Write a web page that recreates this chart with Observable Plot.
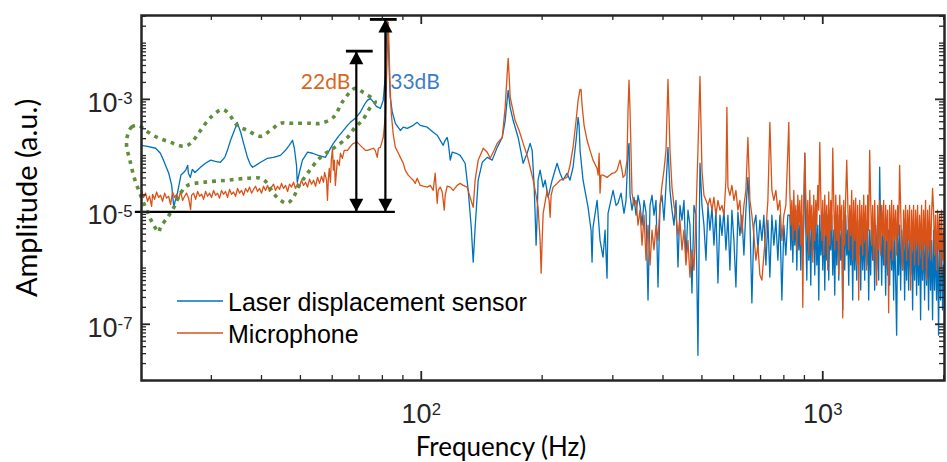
<!DOCTYPE html>
<html><head><meta charset="utf-8">
<script src="https://cdn.jsdelivr.net/npm/d3@7"></script>
<script src="https://cdn.jsdelivr.net/npm/@observablehq/plot@0.6"></script>
<style>body{margin:0;background:#fff}#chart svg{display:block}</style>
</head><body><div id="chart"></div>
<script>
// ---- data: [frequency Hz, amplitude a.u.] ----
const laserSpectrum = [[20.1,1.52e-4],[20.8,1.46e-4],[21.8,1.35e-4],[22.4,1.1e-4],[22.8,8.3e-5],[23.5,4.85e-5],[23.9,2.95e-5],[24.0,2.15e-5],[24.2,1.2e-5],[24.4,1.6e-5],[24.7,2.15e-5],[25.2,4.5e-5],[25.6,5.0e-5],[25.9,5.5e-5],[26.2,6.7e-5],[26.3,4.85e-5],[26.6,4.1e-5],[26.9,5.7e-5],[27.3,5.0e-5],[28.2,6.2e-5],[29.0,7.3e-5],[29.9,8.3e-5],[30.7,7.9e-5],[31.6,7.6e-5],[32.4,9.3e-5],[32.9,1.24e-4],[33.5,1.87e-4],[34.1,2.6e-4],[34.7,3.6e-4],[34.8,3.9e-4],[35.0,3.45e-4],[35.5,2.6e-4],[36.1,1.65e-4],[36.9,9.3e-5],[37.5,7.0e-5],[38.0,6.2e-5],[38.7,6.7e-5],[39.8,7.6e-5],[41.4,8.95e-5],[42.8,9.3e-5],[44.6,1.01e-4],[45.9,1.24e-4],[46.9,1.52e-4],[47.8,1.87e-4],[48.3,1.35e-4],[48.9,6.7e-5],[49.1,3.35e-5],[49.7,5.0e-5],[50.6,8.3e-5],[52.1,1.15e-4],[53.6,1.1e-4],[55.4,1.01e-4],[57.7,9.3e-5],[59.0,1.24e-4],[60.4,1.65e-4],[62.2,2.2e-4],[64.0,2.8e-4],[65.5,3.45e-4],[66.6,3.9e-4],[68.5,4.6e-4],[70.5,5.9e-4],[72.2,8.1e-4],[73.4,9.6e-4],[74.7,1.04e-3],[76.0,8.9e-4],[77.3,7.5e-4],[79.1,6.9e-4],[80.4,9.6e-4],[81.4,2.7e-3],[81.8,9.1e-3],[82.3,0.0243],[82.8,0.0112],[83.2,3.3e-3],[83.7,1.09e-3],[84.7,5.9e-4],[86.2,3.75e-4],[88.7,2.8e-4],[90.2,3.2e-4],[92.3,3.05e-4],[95.5,3.45e-4],[97.7,3.9e-4],[99.4,3.45e-4],[103.5,3.2e-4],[107.1,2.6e-4],[109.6,2.3e-4],[111.5,1.87e-4],[113.4,1.52e-4],[114.7,1.87e-4],[116.0,2.1e-4],[116.7,1.72e-4],[118.1,8.3e-5],[119.4,1.15e-4],[122.2,1.1e-4],[125.0,1.01e-4],[128.6,7.3e-5],[130.9,2.4e-5],[133.2,5.3e-6],[134.7,1.27e-6],[136.2,5.3e-6],[138.6,3.65e-5],[141.9,7.6e-5],[146.0,9.3e-5],[150.2,8.3e-5],[154.6,1.4e-4],[159.1,2.1e-4],[161.8,4.2e-4],[163.6,9.6e-4],[164.6,1.45e-3],[165.5,1.04e-3],[166.5,7.2e-4],[169.4,4.2e-4],[174.3,2.1e-4],[179.4,7.3e-5],[183.5,1.1e-4],[186.7,1.65e-4],[188.9,1.24e-4],[191.0,2.95e-5],[192.1,9.4e-6],[193.2,2.55e-6],[194.4,8.7e-6],[195.4,3.65e-5],[197.7,5.5e-5],[201.2,2.75e-5],[203.5,3.65e-5],[207.0,1.8e-5],[211.8,3.65e-5],[217.9,7.3e-5],[221.7,4.85e-5],[225.5,3.65e-5],[230.7,4.85e-5],[234.7,3.65e-5],[238.8,6.2e-5],[243.0,1.87e-4],[245.8,4.8e-4],[247.2,3.45e-4],[248.6,1.24e-4],[252.9,3.65e-5],[260.3,1.2e-5],[264.8,4.7e-6],[266.3,1.27e-6],[267.8,5.3e-6],[274.1,1.6e-5],[278.8,3.1e-6],[283.6,1.56e-6],[286.9,4.7e-6],[290.2,6.6e-7],[291.9,9.4e-6],[300.4,2.4e-5],[305.6,1.3e-5],[309.0,1.42e-5],[314.4,2.15e-5],[319.9,9.4e-6],[323.6,1.6e-5],[327.3,1.24e-4],[329.2,1.65e-4],
[331.1,1.97e-5],[334.9,1.07e-5],[338.8,1.8e-5],[342.7,8.7e-6],[346.6,1.97e-5],[350.6,1.3e-5],[354.7,5.8e-6],[358.8,1.6e-5],[362.9,9.9e-6],[367.1,2.7e-7],[371.3,1.3e-5],[375.6,1.97e-5],[379.9,8.7e-6],[384.3,1.6e-5],[388.7,4.6e-7],[393.2,1.3e-5],[397.7,1.97e-5],[402.3,7.1e-6],[407.0,2.95e-5],[411.6,1.4e-4],[416.4,2.4e-5],[421.2,1.07e-5],[426.0,5.8e-6],[430.9,1.6e-5],[435.9,1.04e-6],[440.9,1.3e-5],[446.0,7.1e-6],[451.1,1.6e-5],[456.3,1.38e-6],[461.6,1.07e-5],[466.9,5.8e-6],[472.3,3.6e-7],[477.8,1.3e-5],[483.3,8.7e-6],[488.8,2.8e-8],[494.5,7.3e-5],[500.2,1.3e-5],[505.9,5.8e-6],[511.8,1.38e-6],[517.7,1.3e-5],[523.6,4.7e-6],[529.7,1.2e-5],[535.8,2.55e-6],[541.9,1.07e-5],[548.2,5.4e-7],[554.5,8.7e-6],[560.9,3.8e-6],[567.3,1.07e-5],[573.9,2.1e-6],[580.5,8.7e-6],[587.2,9.2e-7],[593.9,1.07e-5],[600.8,3.1e-6],[607.7,4.6e-7],[614.7,9.9e-6],[621.8,3.8e-6],[628.9,8.7e-6],[636.2,1.7e-6],[643.5,1.07e-5],[651.0,4.1e-5],[658.5,7.1e-6],[666.0,2.4e-7],[673.7,5.8e-6],[681.5,8.7e-6],[689.3,2.1e-6],[697.3,7.1e-6],[705.3,3.1e-6],[713.4,8.7e-6],[721.7,1.13e-6],[730.0,7.1e-6],[738.4,6.9e-7],[746.9,8.7e-6],[755.5,2.55e-6],[764.2,7.1e-6],[773.0,1.38e-6],[781.9,8.7e-6],[790.9,2.7e-7],[800.0,5.8e-6],[809.2,1.7e-6],[818.6,8.7e-6],
[827.8,8.7e-6],[832.6,2.1e-6],[837.4,9.9e-6],[842.2,1.27e-6],[847.0,7.7e-6],[851.9,2.55e-6],[856.8,1.07e-5],[861.7,9.2e-7],[866.7,8.7e-6],[871.6,2.1e-6],[876.6,5.8e-6],[881.7,9.2e-7],[886.7,8.7e-6],[891.8,1.7e-6],[897.0,7.1e-6],[902.1,1.1e-4],[907.3,4.7e-6],[912.5,6.1e-7],[917.7,8.7e-6],[923.0,1.38e-6],[928.3,5.8e-6],[933.6,4.97e-7],[939.0,8.7e-6],[944.4,2.1e-6],[949.8,4.7e-6],[955.3,7.5e-7],[960.8,1.07e-5],[966.3,1.13e-6],[971.8,5.8e-6],[977.4,2.7e-7],[983.0,8.7e-6],[988.7,1.7e-6],[994.3,5.8e-6],[1000.0,9.2e-7],[1005.7,8.7e-6],[1011.5,4.05e-7],[1017.3,4.7e-6],[1023.2,1.38e-6],[1029.0,8.7e-6],[1034.9,6.1e-7],[1040.9,5.8e-6],[1046.8,2.1e-6],[1052.9,8.7e-6],[1058.9,7.5e-7],[1065.0,4.7e-6],[1071.1,3.3e-7],[1077.3,7.1e-6],[1083.5,1.13e-6],[1089.7,8.7e-6],[1095.9,6.1e-7],[1102.2,4.7e-6],[1108.5,1.38e-6],[1114.9,7.1e-6],[1121.3,1.8e-7],[1127.8,5.8e-6],[1134.2,9.2e-7],[1140.8,8.7e-6],[1147.3,1.7e-6],[1153.9,4.7e-6],[1160.5,4.97e-7],[1167.2,7.1e-6],[1173.9,1.13e-6],[1180.6,5.8e-6],[1187.4,2.7e-7],[1194.2,8.7e-6],[1201.1,9.2e-7],[1208.0,4.7e-6],[1214.9,6.1e-7],[1221.9,7.1e-6],[1228.9,1.7e-6],[1236.0,5.8e-6],[1243.1,4.05e-7],[1250.2,7.1e-6],[1257.4,9.2e-7],[1264.6,4.7e-6],[1271.9,6.1e-7],[1279.2,7.1e-6],[1286.5,1.13e-6],[1293.9,5.8e-6],[1301.3,2.7e-7],[1308.8,4.7e-6],[1316.3,7.5e-7],[1323.9,7.1e-6],[1331.5,1.38e-6],[1339.1,4.7e-6],[1346.8,4.05e-7],[1354.5,5.8e-6],[1362.3,9.2e-7],[1370.1,7.1e-6],[1378.0,6.1e-7],[1385.9,6.2e-5],[1393.9,4.7e-6],[1401.9,4.97e-7],[1409.9,5.8e-6],[1418.0,1.13e-6],[1426.1,4.7e-6],[1434.3,3.3e-7],[1442.5,5.8e-6],[1450.8,7.5e-7],[1459.1,4.7e-6],[1467.5,4.97e-7],[1476.0,7.1e-6],[1484.4,9.2e-7],[1492.9,4.7e-6],[1501.5,2.7e-7],[1510.1,5.8e-6],[1518.8,6.1e-7],[1527.5,6.4e-8],[1536.3,4.7e-6],[1545.1,7.5e-7],[1554.0,5.8e-6],[1562.9,4.05e-7],[1571.9,4.7e-6],[1580.9,9.2e-7],[1590.0,5.8e-6],[1599.1,2.7e-7],[1608.3,4.7e-6],[1617.5,6.1e-7],[1626.8,5.8e-6],[1636.1,4.05e-7],[1645.5,3.8e-6],[1655.0,7.5e-7],[1664.5,5.8e-6],[1674.0,1.8e-7],[1683.6,4.7e-6],[1693.3,6.1e-7],[1703.0,5.8e-6],[1712.8,3.3e-7],[1722.6,3.8e-6],[1732.5,4.97e-7],[1742.5,4.7e-6],[1752.5,1.2e-7],[1762.5,4.7e-6],[1772.6,6.1e-7],[1782.8,3.8e-6],[1793.0,2.7e-7],[1803.3,4.7e-6],[1813.7,4.97e-7],[1824.1,3.8e-6],[1834.5,1.8e-7],[1845.1,4.7e-6],[1855.6,4.05e-7],[1866.3,3.1e-6],[1877.0,1.2e-7],[1887.8,4.7e-6],[1898.6,4.05e-7],[1909.5,3.1e-6],[1920.5,2.7e-7],[1931.5,3.8e-6],[1942.6,6.4e-8],[1953.7,3.1e-6],[1964.9,2.7e-7],[1976.2,3.8e-6],[1987.6,1.8e-7],[1999.0,1.13e-6]];

const micSpectrum = [[20.11,2.4e-5],[20.34,1.8e-5],[20.58,2.15e-5],[20.81,1.54e-5],[21.05,1.89e-5],[21.30,1.25e-5],[21.42,2.05e-5],[21.67,1.67e-5],[21.92,2.25e-5],[22.17,1.8e-5],[22.42,1.97e-5],[22.68,1.54e-5],[22.95,2.15e-5],[23.21,1.75e-5],[23.48,1.89e-5],[23.75,1.36e-5],[24.02,2.25e-5],[24.30,1.8e-5],[24.58,2.05e-5],[24.87,1.67e-5],[25.15,2.3e-5],[25.44,1.6e-5],[25.74,1.89e-5],[26.03,2.15e-5],[26.33,1.75e-5],[26.64,1.1e-5],[26.79,1.97e-5],[27.10,2.15e-5],[27.41,1.67e-5],[27.73,2.3e-5],[28.05,1.89e-5],[28.37,2.05e-5],[28.70,1.67e-5],[29.03,2.3e-5],[29.36,1.89e-5],[29.70,2.15e-5],[30.04,1.8e-5],[30.39,2.4e-5],[30.74,1.97e-5],[31.09,2.15e-5],[31.45,1.75e-5],[31.81,2.4e-5],[32.18,2.05e-5],[32.55,2.3e-5],[32.93,1.8e-5],[33.31,2.5e-5],[33.69,2.05e-5],[34.08,2.25e-5],[34.47,1.89e-5],[34.87,2.6e-5],[35.27,2.15e-5],[35.68,2.4e-5],[36.09,1.97e-5],[36.51,2.6e-5],[36.93,2.25e-5],[37.35,2.75e-5],[37.78,2.15e-5],[38.22,2.5e-5],[38.66,2.85e-5],[39.11,2.3e-5],[39.56,2.6e-5],[40.01,2.15e-5],[40.47,2.85e-5],[40.94,2.4e-5],[41.41,2.95e-5],[41.89,2.3e-5],[42.37,2.75e-5],[42.86,3.1e-5],[43.36,2.4e-5],[43.86,2.85e-5],[44.36,2.5e-5],[44.87,3.2e-5],[45.39,2.6e-5],[45.92,2.95e-5],[46.45,2.3e-5],[46.98,3.1e-5],[47.52,2.75e-5],[48.07,3.35e-5],[48.63,2.6e-5],[49.19,3.2e-5],[49.75,2.85e-5],[50.33,3.65e-5],[50.91,2.95e-5],[51.50,3.35e-5],[52.09,2.75e-5],[52.69,3.8e-5],[53.30,3.1e-5],[53.92,3.65e-5],[54.54,2.85e-5],[55.17,4.1e-5],[55.80,3.2e-5],[56.45,4.3e-5],[57.10,3.35e-5],[57.43,5.0e-5],[58.09,3.65e-5],[58.4,1.6e-5],[58.7,3.95e-5],[59.0,5.9e-5],[59.4,3.35e-5],[59.7,8.3e-5],[60.1,1.35e-4],[60.4,5.5e-5],[60.75,8.3e-5],[61.1,2.95e-5],[61.8,8.3e-5],[62.5,6.7e-5],[62.9,1.1e-4],[63.6,8.95e-5],[64.3,1.24e-4],[65.5,1.24e-4],[66.6,1.46e-4],[67.7,1.65e-4],[69.3,1.72e-4],[70.5,1.52e-4],[71.3,1.4e-4],[72.6,1.24e-4],[73.4,1.24e-4],[74.7,1.29e-4],[76.0,1.35e-4],[76.8,1.24e-4],[77.7,9.3e-5],[78.2,1.35e-4],[79.1,1.4e-4],[80.0,1.87e-4],[80.4,2.1e-4],[81.4,5.2e-4],[81.8,1.45e-3],[82.3,7.4e-3],[82.8,0.0234],[83.2,6.0e-3],[83.7,1.45e-3],[84.2,5.6e-4],[85.2,2.3e-4],[86.2,1.4e-4],[87.7,1.1e-4],[88.7,9.3e-5],[90.2,7.3e-5],[91.2,5.5e-5],[92.8,4.5e-5],[93.9,4.1e-5],[95.5,3.65e-5],[96.6,3.2e-5],[97.7,3.95e-5],[99.4,2.95e-5],[101.2,2.85e-5],[103.5,2.75e-5],[105.3,2.95e-5],[107.1,2.4e-5],[108.3,4.85e-5],[109.6,1.42e-5],[110.2,2.4e-5],[111.5,2.75e-5],[112.8,2.25e-5],[114.1,1.07e-5],[114.7,1.97e-5],[116.0,2.85e-5],[118.1,2.75e-5],[120.1,2.4e-5],[122.9,2.95e-5],[125.0,3.2e-5],[127.2,2.95e-5],[130.1,2.75e-5],[132.4,1.8e-5],[134.7,1.2e-5],[136.2,3.65e-5],[138.6,8.3e-5],[142.7,1.35e-4],[146.0,1.15e-4],[148.5,8.95e-5],[151.9,1.24e-4],[154.6,1.65e-4],[159.1,2.1e-4],[161.8,7.2e-4],[163.6,2.7e-3],[164.6,5.35e-3],[165.5,2.7e-3],[166.5,1.09e-3],[171.3,4.2e-4],[175.3,2.8e-4],[179.4,1.65e-4],[183.5,1.01e-4],[186.7,6.2e-5],[190.0,3.65e-5],[193.2,1.97e-5],[195.4,1.2e-5],[197.7,3.1e-6],[198.9,8.1e-7],[200.0,3.1e-6],[201.2,9.4e-6],[205.8,2.4e-5],[208.2,1.6e-5],[209.4,8.0e-6],[210.6,1.97e-5],[213.0,2.75e-5],[217.9,3.2e-5],[221.7,3.65e-5],[228.1,3.95e-5],[230.7,4.1e-5],[234.7,6.7e-5],[238.8,1.4e-4],[243.0,4.2e-4],[245.8,9.6e-4],[248.6,1.5e-3],[250.0,1.5e-3],[251.5,7.8e-4],[254.4,3.45e-4],[258.8,1.87e-4],[263.2,1.24e-4],[267.8,8.3e-5],[274.1,5.9e-5],[275.7,4.5e-5],[277.3,1.1e-4],[278.8,2.15e-5],[280.4,4.5e-5],[283.6,4.5e-5],[290.2,4.1e-5],[295.3,4.5e-5],[298.6,4.85e-5],[303.7,5.0e-5],[307.4,5.5e-5],[312.6,8.3e-5],[316.2,5.5e-5],[318.1,4.1e-5],[321.7,4.5e-5],[325.4,8.3e-5],[327.3,6.4e-4],[329.2,2.2e-3],
[331.1,6.4e-4],[334.9,2.15e-5],[338.8,1.3e-5],[342.7,1.6e-5],[346.6,5.8e-6],[350.6,1.07e-5],[354.7,2.55e-6],[358.8,8.7e-6],[362.9,1.38e-6],[367.1,5.8e-6],[371.3,1.13e-6],[375.6,4.7e-6],[379.9,2.1e-6],[384.3,5.8e-6],[388.7,3.1e-6],[393.2,1.3e-5],[397.7,2.95e-5],[402.3,5.5e-5],[407.0,1.24e-4],[411.6,2.26e-3],[416.4,1.24e-4],[421.2,2.75e-5],[426.0,1.3e-5],[430.9,8.7e-6],[435.9,3.8e-6],[440.9,7.1e-6],[446.0,2.1e-6],[451.1,4.7e-6],[456.3,1.13e-6],[461.6,3.1e-6],[466.9,6.9e-7],[472.3,2.1e-6],[477.8,9.2e-7],[483.3,8.7e-6],[488.8,1.24e-4],[494.5,2.55e-3],[500.2,5.5e-5],[505.9,1.97e-5],[511.8,1.6e-5],[517.7,1.3e-5],[523.6,1.75e-5],[529.7,1.07e-5],[535.8,1.8e-5],[541.9,8.7e-6],[548.2,1.6e-5],[554.5,1.07e-5],[560.9,1.3e-5],[567.3,8.7e-6],[573.9,3.65e-5],[577.1,7.2e-4],[580.5,2.75e-5],[587.2,1.97e-5],[593.9,2.95e-5],[600.8,1.6e-5],[607.7,2.4e-5],[614.7,1.07e-5],[621.8,1.6e-5],[628.9,4.2e-6],[636.2,1.3e-5],[643.5,2.4e-5],[651.0,2.1e-4],[658.5,1.6e-5],[666.0,8.7e-6],[673.7,3.8e-6],[681.5,1.38e-6],[689.3,2.55e-6],[697.3,7.5e-7],[705.3,6.1e-7],[713.4,1.7e-6],[721.7,4.7e-6],[730.0,1.6e-5],[738.4,3.9e-4],[746.9,2.4e-5],[755.5,1.6e-5],[764.2,2.4e-5],[773.0,1.07e-5],[781.9,1.6e-5],[790.9,3.1e-6],[800.0,8.7e-6],[809.2,1.3e-5],[818.6,1.24e-4],[823.0,3.9e-4],
[827.8,2.4e-5],[832.6,5.8e-6],[837.4,1.6e-5],[842.2,3.1e-6],[847.0,2.4e-5],[851.9,4.7e-6],[856.8,1.3e-5],[861.7,2.1e-6],[866.7,1.97e-5],[871.6,5.8e-6],[876.6,1.6e-5],[881.7,2.55e-6],[886.7,1.97e-5],[891.8,2.0e-7],[897.0,1.6e-5],[902.1,1.1e-4],[907.3,1.97e-5],[912.5,3.8e-6],[917.7,1.6e-5],[923.0,1.7e-6],[928.3,2.4e-5],[933.6,4.7e-6],[939.0,1.3e-5],[944.4,1.27e-6],[949.8,1.97e-5],[955.3,3.1e-6],[960.8,1.6e-5],[966.3,5.8e-6],[971.8,2.95e-5],[977.4,1.07e-5],[983.0,1.72e-4],[988.7,1.97e-5],[994.3,3.1e-6],[1000.0,1.6e-5],[1005.7,1.7e-6],[1011.5,1.97e-5],[1017.3,3.8e-6],[1023.2,1.3e-5],[1029.0,9.2e-7],[1034.9,2.25e-5],[1040.9,2.55e-6],[1046.8,1.6e-5],[1052.9,4.7e-6],[1058.9,1.35e-4],[1065.0,1.6e-5],[1071.1,2.1e-6],[1077.3,1.97e-5],[1083.5,3.1e-6],[1089.7,1.3e-5],[1095.9,7.5e-7],[1102.2,1.97e-5],[1108.5,4.7e-6],[1114.9,1.3e-5],[1121.3,1.3e-7],[1127.8,1.6e-5],[1134.2,2.55e-6],[1140.8,1.97e-5],[1147.3,8.3e-5],[1153.9,1.6e-5],[1160.5,2.1e-6],[1167.2,1.3e-5],[1173.9,3.8e-6],[1180.6,2.4e-5],[1187.4,1.38e-6],[1194.2,1.6e-5],[1201.1,3.1e-6],[1208.0,1.75e-5],[1214.9,1.13e-6],[1221.9,1.3e-5],[1228.9,2.7e-7],[1236.0,1.6e-5],[1243.1,2.55e-6],[1250.2,1.3e-5],[1257.4,1.7e-6],[1264.6,1.97e-5],[1271.9,3.1e-6],[1279.2,1.3e-5],[1286.5,9.2e-7],[1293.9,1.97e-5],[1301.3,4.7e-6],[1308.8,1.24e-4],[1316.3,1.6e-5],[1323.9,2.55e-6],[1331.5,1.3e-5],[1339.1,1.38e-6],[1346.8,1.6e-5],[1354.5,3.1e-6],[1362.3,4.97e-7],[1370.1,1.3e-5],[1378.0,2.1e-6],[1385.9,1.6e-5],[1393.9,1.7e-6],[1401.9,1.3e-5],[1409.9,3.8e-6],[1418.0,1.6e-5],[1426.1,1.13e-6],[1434.3,1.3e-5],[1442.5,3.1e-6],[1450.8,1.07e-5],[1459.1,1.6e-7],[1467.5,1.3e-5],[1476.0,2.1e-6],[1484.4,1.6e-5],[1492.9,1.38e-6],[1501.5,1.3e-5],[1510.1,3.1e-6],[1518.8,1.07e-5],[1527.5,1.7e-6],[1536.3,1.3e-5],[1545.1,3.8e-6],[1554.0,6.7e-5],[1562.9,1.3e-5],[1571.9,2.1e-6],[1580.9,9.2e-7],[1590.0,1.07e-5],[1599.1,2.55e-6],[1608.3,1.3e-5],[1617.5,1.38e-6],[1626.8,1.07e-5],[1636.1,3.1e-6],[1645.5,1.3e-5],[1655.0,4.05e-7],[1664.5,1.07e-5],[1674.0,2.1e-6],[1683.6,1.3e-5],[1693.3,1.13e-6],[1703.0,1.07e-5],[1712.8,2.55e-6],[1722.6,1.3e-5],[1732.5,1.13e-6],[1742.5,8.7e-6],[1752.5,2.1e-6],[1762.5,1.3e-5],[1772.6,9.2e-7],[1782.8,1.07e-5],[1793.0,2.55e-6],[1803.3,1.6e-5],[1813.7,6.1e-7],[1824.1,1.07e-5],[1834.5,2.1e-6],[1845.1,1.3e-5],[1855.6,1.38e-6],[1866.3,8.7e-6],[1877.0,2.6e-5],[1887.8,1.07e-5],[1898.6,1.7e-6],[1909.5,8.7e-6],[1920.5,9.2e-7],[1931.5,1.07e-5],[1942.6,2.1e-6],[1953.7,8.7e-6],[1964.9,7.5e-7],[1976.2,1.07e-5],[1987.6,1.38e-6],[1999.0,4.7e-6]];

// green dotted outline (closed region)
const regionOutline = [[18.56,2.3e-4],[18.99,3.2e-4],[19.77,3.45e-4],[20.58,2.8e-4],[22.0,2.1e-4],[23.75,1.72e-4],[25.6,1.46e-4],[26.65,1.65e-4],[28.2,2.8e-4],[29.9,4.8e-4],[32.0,6.6e-4],[33.1,5.6e-4],[34.8,3.45e-4],[36.9,2.8e-4],[39.8,2.2e-4],[42.1,2.8e-4],[44.6,3.75e-4],[48.0,3.75e-4],[53.0,3.75e-4],[56.1,3.75e-4],[60.4,4.8e-4],[64.0,9.6e-4],[68.5,1.57e-3],[71.7,1.33e-3],[75.5,1.04e-3],[76.8,8.9e-4],[74.7,7.2e-4],[71.3,4.2e-4],[68.5,3.2e-4],[65.5,2.1e-4],[60.4,1.35e-4],[56.1,9.3e-5],[52.1,4.85e-5],[49.4,2.75e-5],[48.0,1.8e-5],[46.4,1.42e-5],[44.6,1.6e-5],[42.8,2.15e-5],[41.4,3.2e-5],[39.8,3.95e-5],[36.9,3.95e-5],[32.9,3.65e-5],[28.7,3.35e-5],[26.2,2.95e-5],[25.15,2.15e-5],[24.2,1.2e-5],[23.35,8.0e-6],[22.4,5.3e-6],[22.2,4.35e-6],[21.5,6.0e-6],[20.8,9.9e-6],[20.0,1.97e-5],[19.3,3.95e-5],[18.8,8.3e-5],[18.45,1.52e-4]];

const seriesNames = ["Laser displacement sensor", "Microphone"];
const seriesColors = ["#0072BD", "#D95319"];
const xTickValues = [100, 1000];
const yTickValues = [1e-7, 1e-5, 1e-3];
// annotation: reference level and two gain arrows
const baseLevel = 1e-5;
const baseFreqRange = [19.4, 86.2];
const arrowFreq = [68.9, 81.4];
const arrowTop = [7.2e-3, 0.0264];
const capFreqLo = [65.1, 74.7];
const capFreqHi = [75.9, 87.1];
const gainLabels = ["22dB", "33dB"];
const gainLabelFreq = [66.6, 83.7];
const gainLabelAmp = [1.5e-3, 1.5e-3];

// ---- build ----
const W = 947, H = 462, ML = 141, MR = 3, MT = 15, MB = 82;
const FW = W - ML - MR, FH = H - MT - MB;
const laser = laserSpectrum.map(([f, a]) => ({f, a}));
const mic = micSpectrum.map(([f, a]) => ({f, a}));
const region = regionOutline.map(([f, a]) => ({f, a}));
const arrows = arrowFreq.map((f, i) => ({f, top: arrowTop[i], lo: capFreqLo[i], hi: capFreqHi[i]}));

const yMinor = [], xMinor = [];
for (let n = -8; n <= -2; n++) for (let k = 1; k <= 9; k++) {
  const v = k * Math.pow(10, n);
  if (v >= 1e-8 && v <= 0.031 && !yTickValues.some(t => Math.abs(t - v) / t < 1e-6)) yMinor.push(v);
}
for (let n = 1; n <= 3; n++) for (let k = 1; k <= 9; k++) {
  const v = k * Math.pow(10, n);
  if (v >= 20.1 && v <= 2010 && !xTickValues.includes(v)) xMinor.push(v);
}

const triUp = {draw(ctx) { ctx.moveTo(0, 0); ctx.lineTo(7, 13); ctx.lineTo(-7, 13); ctx.closePath(); }};
const triDown = {draw(ctx) { ctx.moveTo(0, 0); ctx.lineTo(7, -13); ctx.lineTo(-7, -13); ctx.closePath(); }};
const ink = "#262626";
const titleFont = "Lato, 'Open Sans', sans-serif";
const expLabel = d => "10^" + Math.round(Math.log10(d));

const svg = Plot.plot({
  width: W, height: H,
  marginLeft: ML, marginRight: MR, marginTop: MT, marginBottom: MB,
  style: {fontFamily: "'Liberation Sans', Arial, sans-serif", background: "white", overflow: "visible"},
  x: {type: "log", domain: [20.1, 2010], axis: null},
  y: {type: "log", domain: [1e-8, 0.031], axis: null},
  marks: [
    Plot.line(laser, {x: "f", y: "a", stroke: seriesColors[0], strokeWidth: 1.3, clip: true}),
    Plot.line(mic, {x: "f", y: "a", stroke: seriesColors[1], strokeWidth: 1.3, clip: true}),
    Plot.line(region, {x: "f", y: "a", curve: "catmull-rom-closed", stroke: "#5f8f3e", strokeWidth: 3.6, strokeDasharray: "3.8,5", strokeLinecap: "butt"}),
    // reference level and arrows
    Plot.ruleY([baseLevel], {x1: baseFreqRange[0], x2: baseFreqRange[1], stroke: "black", strokeWidth: 2.2}),
    Plot.ruleX(arrows, {x: "f", y1: baseLevel, y2: "top", stroke: "black", strokeWidth: 2.2}),
    Plot.ruleY(arrows, {y: "top", x1: "lo", x2: "hi", stroke: "black", strokeWidth: 2.8}),
    Plot.dot(arrows, {x: "f", y: "top", symbol: triUp, fill: "black", stroke: null}),
    Plot.dot(arrows, {x: "f", y: () => baseLevel, symbol: triDown, fill: "black", stroke: null}),
    Plot.text([0], {x: () => gainLabelFreq[0], y: () => gainLabelAmp[0], text: () => gainLabels[0], textAnchor: "end", lineAnchor: "bottom", fill: "#D9661F", fontSize: 21, fontFamily: titleFont}),
    Plot.text([1], {x: () => gainLabelFreq[1], y: () => gainLabelAmp[1], text: () => gainLabels[1], textAnchor: "start", lineAnchor: "bottom", fill: "#3B7DC4", fontSize: 21, fontFamily: titleFont}),
    // frame and inward ticks
    Plot.frame({stroke: ink, strokeWidth: 2.5}),
    Plot.tickY(yMinor, {y: d => d, insetRight: FW - 5, stroke: ink, strokeWidth: 1.3}),
    Plot.tickY(yMinor, {y: d => d, insetLeft: FW - 5, stroke: ink, strokeWidth: 1.3}),
    Plot.tickY(yTickValues, {y: d => d, insetRight: FW - 9, stroke: ink, strokeWidth: 1.8}),
    Plot.tickY(yTickValues, {y: d => d, insetLeft: FW - 9, stroke: ink, strokeWidth: 1.8}),
    Plot.tickX(xMinor, {x: d => d, insetTop: FH - 5, stroke: ink, strokeWidth: 1.3}),
    Plot.tickX(xMinor, {x: d => d, insetBottom: FH - 5, stroke: ink, strokeWidth: 1.3}),
    Plot.tickX(xTickValues, {x: d => d, insetTop: FH - 9, stroke: ink, strokeWidth: 1.8}),
    Plot.tickX(xTickValues, {x: d => d, insetBottom: FH - 9, stroke: ink, strokeWidth: 1.8}),
    // tick labels
    Plot.text(yTickValues, {y: d => d, frameAnchor: "left", text: expLabel, textAnchor: "end", dx: -9, dy: 4, fontSize: 27, fill: ink}),
    Plot.text(xTickValues, {x: d => d, frameAnchor: "bottom", text: expLabel, textAnchor: "middle", lineAnchor: "bottom", dy: 42, fontSize: 27, fill: ink}),
    // axis titles
    Plot.text(["Frequency (Hz)"], {frameAnchor: "bottom", text: d => d, textAnchor: "middle", dx: -42, dy: 75, lineAnchor: "bottom", fontSize: 26, fill: "black", fontFamily: titleFont}),
    Plot.text(["Amplitude (a.u.)"], {frameAnchor: "left", text: d => d, textAnchor: "middle", rotate: -90, dx: -105, lineAnchor: "bottom", fontSize: 29, fill: "black", fontFamily: titleFont})
  ]
});

// superscript exponents on tick labels
d3.select(svg).selectAll("text").each(function() {
  const m = /^10\^(-?\d+)$/.exec(this.textContent);
  if (!m) return;
  const t = d3.select(this);
  t.text(null);
  t.append("tspan").text("10");
  t.append("tspan").attr("dy", "-0.45em").attr("font-size", "0.62em").text(m[1]);
});

// legend
const lg = d3.select(svg).append("g")
  .attr("font-family", "'Liberation Sans', Arial, sans-serif").attr("font-size", 25).attr("text-anchor", "start");
seriesNames.forEach((name, i) => {
  const base = 311 + i * 32;
  lg.append("line").attr("x1", 177).attr("x2", 223).attr("y1", base - 10).attr("y2", base - 10)
    .attr("stroke", seriesColors[i]).attr("stroke-width", 1.5);
  lg.append("text").attr("x", 228).attr("y", base).attr("fill", "black").attr("text-anchor", "start").text(name);
});

document.getElementById("chart").appendChild(svg);
</script>
</body></html>
